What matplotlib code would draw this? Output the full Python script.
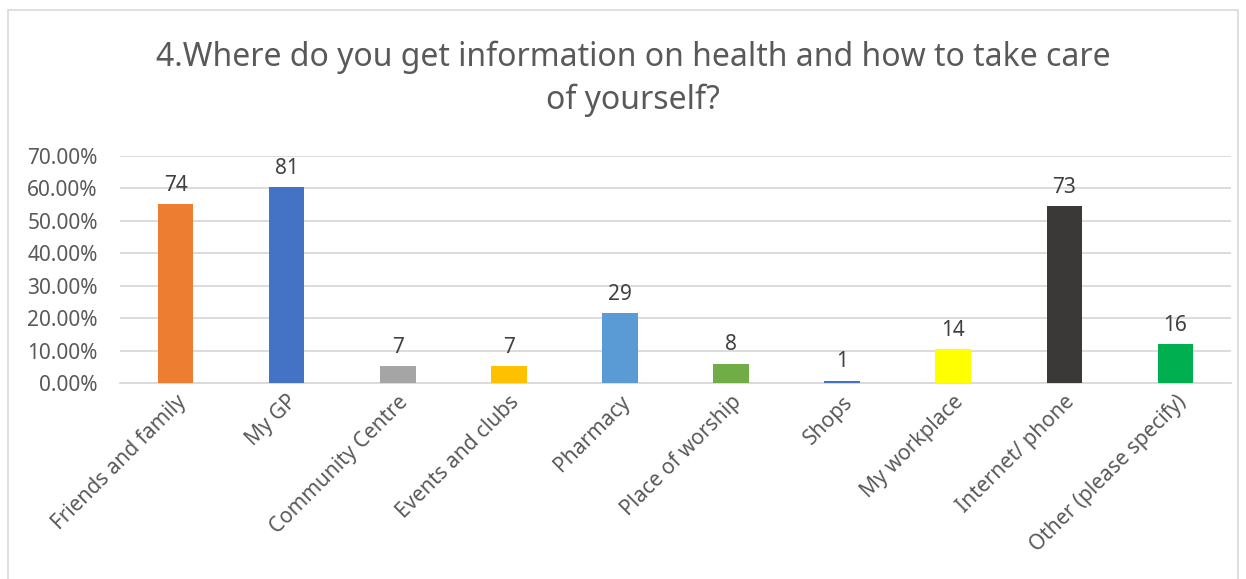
import matplotlib

matplotlib.use("Agg")
import matplotlib.pyplot as plt
from matplotlib.patches import Rectangle
from matplotlib.ticker import FuncFormatter

plt.rcParams["font.family"] = ["Noto Sans", "DejaVu Sans"]

CATEGORIES = ["Friends and family", "My GP", "Community Centre", "Events and clubs",
              "Pharmacy", "Place of worship", "Shops", "My workplace",
              "Internet/ phone", "Other (please specify)"]
SHARES = [0.552, 0.604, 0.052, 0.052, 0.216, 0.060, 0.0075, 0.104, 0.545, 0.119]
COUNTS = [74, 81, 7, 7, 29, 8, 1, 14, 73, 16]
COLORS = ["#ED7D31", "#4472C4", "#A5A5A5", "#FFC000", "#5B9BD5",
          "#70AD47", "#4472C4", "#FFFF00", "#3B3838", "#00B050"]

TEXT = "#595959"
GRID = "#D9D9D9"

fig = plt.figure(figsize=(12.46, 5.79), dpi=100)
ax = fig.add_axes([120 / 1246, 1 - 383 / 579, 1111 / 1246, 227 / 579])

x = range(len(CATEGORIES))
bars = ax.bar(x, SHARES, 0.32, color=COLORS, zorder=3)
for b, n in zip(bars, COUNTS):
    ax.annotate(str(n), xy=(b.get_x() + b.get_width() / 2, b.get_height()),
                xytext=(0, 6), textcoords="offset points", ha="center",
                va="bottom", fontsize=15, color="#404040")

ax.set_xlim(-0.5, len(CATEGORIES) - 0.5)
ax.set_ylim(0, 0.70)
ax.set_yticks([i / 10 for i in range(8)])
ax.yaxis.set_major_formatter(FuncFormatter(lambda v, _: f"{v * 100:.2f}%"))
ax.grid(axis="y", color=GRID, linewidth=1.3, zorder=0)
ax.tick_params(axis="both", length=0, labelsize=15, colors=TEXT)
ax.tick_params(axis="y", pad=16)
ax.tick_params(axis="x", pad=6)
ax.set_xticks(list(x))
ax.set_xticklabels(CATEGORIES, rotation=45, ha="right", rotation_mode="anchor")
for s in ("top", "right", "left"):
    ax.spines[s].set_visible(False)
ax.spines["bottom"].set_color(GRID)
ax.spines["bottom"].set_linewidth(1.3)

fig.text(633 / 1246, 1 - 57 / 579, "4.Where do you get information on health and how to take care",
         ha="center", va="center", fontsize=23, color=TEXT)
fig.text(633 / 1246, 1 - 100 / 579, "of yourself?",
         ha="center", va="center", fontsize=23, color=TEXT)

fig.patches.append(Rectangle((8 / 1246, -0.01), 1230 / 1246, 1 - 10 / 579 + 0.01,
                             transform=fig.transFigure, fill=False,
                             edgecolor="#D9D9D9", linewidth=1.2))

fig.savefig("out.png", dpi=100)
